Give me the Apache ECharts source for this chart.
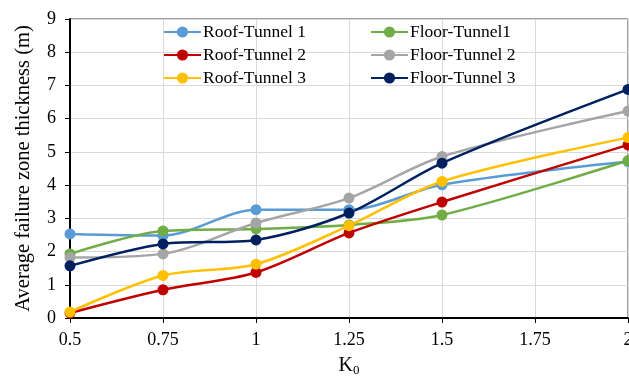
<!DOCTYPE html>
<html>
<head>
<meta charset="utf-8">
<script src="https://cdn.jsdelivr.net/npm/echarts@6/dist/echarts.min.js"></script>
<style>
  html, body { margin: 0; padding: 0; background: #fff; }
  #chart { width: 629px; height: 379px; }
</style>
</head>
<body>
<div id="chart"></div>
<script>
var K0 = [0.5, 0.75, 1, 1.25, 1.5, 2];
var NAMES = ['Roof-Tunnel 1', 'Floor-Tunnel1', 'Roof-Tunnel 2', 'Floor-Tunnel 2', 'Roof-Tunnel 3', 'Floor-Tunnel 3'];
var COLORS = ['#5B9BD5', '#70AD47', '#C00000', '#A5A5A5', '#FFC000', '#002060'];
var roof1 = [2.53, 2.48, 3.26, 3.26, 4.01, 4.71];
var floor1 = [1.93, 2.62, 2.68, 2.8, 3.1, 4.74];
var roof2 = [0.15, 0.85, 1.37, 2.56, 3.49, 5.21];
var floor2 = [1.82, 1.93, 2.86, 3.61, 4.86, 6.23];
var roof3 = [0.18, 1.28, 1.62, 2.78, 4.11, 5.43];
var floor3 = [1.57, 2.23, 2.35, 3.16, 4.66, 6.88];
var values = [roof1, floor1, roof2, floor2, roof3, floor3];

var FONT = '"Liberation Serif", "Times New Roman", serif';

var myChart = echarts.init(document.getElementById('chart'));

var series = [];
NAMES.forEach(function (name, i) {
    var pts = [];
    K0.forEach(function (k, j) {
        pts.push([k, values[i][j]]);
    });
    series.push({
        name: name,
        type: 'line',
        smooth: 0.3,
        symbol: 'circle',
        symbolSize: 11,
        lineStyle: { width: 2.5, color: COLORS[i] },
        itemStyle: { color: COLORS[i] },
        data: pts
    });
});

var legendText = { fontFamily: FONT, fontSize: 17.5, color: '#000', padding: [0, 0, 0, -3] };

var option = {
    animation: false,
    color: COLORS,
    legend: [
        {
            data: [NAMES[0], NAMES[2], NAMES[4]],
            orient: 'vertical',
            left: 158,
            top: 18,
            padding: 5,
            itemWidth: 37,
            itemHeight: 14,
            itemGap: 5,
            textStyle: legendText
        },
        {
            data: [NAMES[1], NAMES[3], NAMES[5]],
            orient: 'vertical',
            left: 365,
            top: 18,
            padding: 5,
            itemWidth: 37,
            itemHeight: 14,
            itemGap: 5,
            textStyle: legendText
        }
    ],
    grid: {
        left: 70,
        right: 1,
        top: 19,
        bottom: 61,
        outerBoundsMode: 'none',
        show: true,
        borderColor: '#404040',
        borderWidth: 1
    },
    xAxis: {
        type: 'value',
        min: 0.5,
        max: 2,
        interval: 0.25,
        name: '{k|K}{s|0}',
        nameLocation: 'middle',
        nameGap: 37,
        nameTextStyle: {
            rich: {
                k: { fontFamily: FONT, fontSize: 20, color: '#000' },
                s: { fontFamily: FONT, fontSize: 13, color: '#000', verticalAlign: 'bottom', padding: [9, 0, 0, 0] }
            }
        },
        axisLine: { show: true, lineStyle: { color: '#000', width: 2 } },
        axisTick: { show: true, length: 5, lineStyle: { color: '#000' } },
        axisLabel: { fontFamily: FONT, fontSize: 18, color: '#000', margin: 13 },
        splitLine: { show: true, lineStyle: { color: '#D9D9D9', width: 1 } }
    },
    yAxis: {
        type: 'value',
        min: 0,
        max: 9,
        interval: 1,
        name: 'Average failure zone thickness (m)',
        nameLocation: 'middle',
        nameGap: 36,
        nameTextStyle: { fontFamily: FONT, fontSize: 20.5, color: '#000' },
        axisLine: { show: true, lineStyle: { color: '#000', width: 2 } },
        axisTick: { show: true, length: 5, lineStyle: { color: '#000' } },
        axisLabel: { fontFamily: FONT, fontSize: 18, color: '#000', margin: 14 },
        splitLine: { show: true, lineStyle: { color: '#D9D9D9', width: 1 } }
    },
    series: series
};
myChart.setOption(option);
</script>
</body>
</html>
